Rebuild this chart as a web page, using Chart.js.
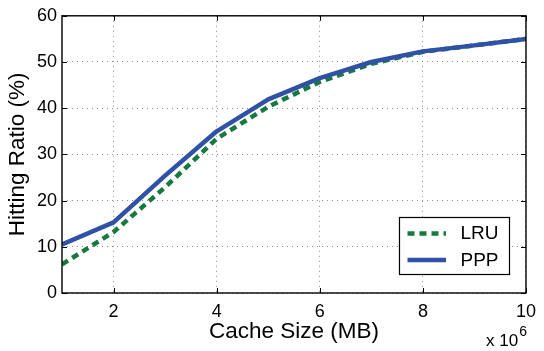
<!DOCTYPE html>
<html>
<head>
<meta charset="utf-8">
<script src="https://cdn.jsdelivr.net/npm/chart.js@4/dist/chart.umd.min.js"></script>
<style>
  html, body { margin: 0; padding: 0; background: #ffffff; }
  #wrap { width: 544px; height: 351px; }
</style>
</head>
<body>
<div id="wrap"><canvas id="c" width="544" height="351"></canvas></div>
<script>
// ---- data ----
const cacheSize = [1, 2, 3, 4, 5, 6, 7, 8, 9, 10];            // x 10^6 MB
const lruRatio  = [6.2, 13.2, 22.9, 33.4, 40.3, 45.7, 49.6, 52.2, 53.6, 55.0];
const pppRatio  = [10.5, 15.3, 25.4, 35.0, 41.9, 46.5, 50.0, 52.3, 53.6, 55.0];
const xTicks = [2, 4, 6, 8, 10];
const yTicks = [0, 10, 20, 30, 40, 50, 60];
const seriesNames = ['LRU', 'PPP'];
const xTitle = 'Cache Size (MB)';
const yTitle = 'Hitting Ratio (%)';
const xExpBase = 'x 10';
const xExpPow = '6';

const FONT = "'Liberation Sans', Arial, Helvetica, sans-serif";
const GREEN = 'rgb(22,122,62)';
const BLUE = 'rgb(48,82,166)';
const GRID = 'rgba(120,120,120,0.85)';

const framePlugin = {
  id: 'frame',
  afterDatasetsDraw(chart) {
    const ctx = chart.ctx;
    const a = chart.chartArea;
    const xs = chart.scales.x, ys = chart.scales.y;
    ctx.save();
    ctx.strokeStyle = '#000';
    ctx.lineWidth = 1.4;
    ctx.setLineDash([]);
    ctx.strokeRect(a.left, a.top, a.right - a.left, a.bottom - a.top);
    ctx.lineWidth = 1;
    const tl = 5;
    ctx.beginPath();
    xTicks.forEach(v => {
      const px = Math.round(xs.getPixelForValue(v)) + 0.5;
      ctx.moveTo(px, a.bottom); ctx.lineTo(px, a.bottom - tl);
      ctx.moveTo(px, a.top); ctx.lineTo(px, a.top + tl);
    });
    yTicks.forEach(v => {
      const py = Math.round(ys.getPixelForValue(v)) + 0.5;
      ctx.moveTo(a.left, py); ctx.lineTo(a.left + tl, py);
      ctx.moveTo(a.right, py); ctx.lineTo(a.right - tl, py);
    });
    ctx.stroke();
    ctx.restore();
  },
  afterDraw(chart) {
    const ctx = chart.ctx;
    ctx.save();
    // exponent label
    ctx.fillStyle = '#000';
    ctx.textBaseline = 'alphabetic';
    ctx.textAlign = 'left';
    ctx.font = '17px ' + FONT;
    ctx.fillText(xExpBase, 486, 346);
    const w = ctx.measureText(xExpBase).width;
    ctx.font = '14px ' + FONT;
    ctx.fillText(xExpPow, 486 + w + 1, 336);

    // legend
    const bx = 399.5, by = 217.5, bw = 110, bh = 57;
    ctx.fillStyle = '#fff';
    ctx.fillRect(bx, by, bw, bh);
    ctx.strokeStyle = '#000';
    ctx.lineWidth = 1.2;
    ctx.strokeRect(bx, by, bw, bh);
    const rows = [233.5, 260];
    chart.data.datasets.forEach((ds, i) => {
      const y = rows[i];
      ctx.beginPath();
      ctx.strokeStyle = ds.borderColor;
      ctx.lineWidth = ds.borderWidth;
      ctx.setLineDash(ds.borderDash || []);
      ctx.lineCap = 'butt';
      ctx.moveTo(407.5, y); ctx.lineTo(446, y);
      ctx.stroke();
      ctx.setLineDash([]);
      ctx.fillStyle = '#000';
      ctx.font = '19px ' + FONT;
      ctx.textBaseline = 'middle';
      ctx.fillText(ds.label, 460.5, y + 0.5);
    });
    ctx.restore();
  }
};

new Chart(document.getElementById('c'), {
  type: 'line',
  data: {
    labels: cacheSize,
    datasets: [
      {
        label: seriesNames[0],
        data: cacheSize.map((x, i) => ({x: x, y: lruRatio[i]})),
        borderColor: GREEN,
        borderWidth: 4.5,
        borderDash: [7, 5],
        borderCapStyle: 'butt',
        pointRadius: 0,
        tension: 0,
        fill: false,
        order: 1
      },
      {
        label: seriesNames[1],
        data: cacheSize.map((x, i) => ({x: x, y: pppRatio[i]})),
        borderColor: BLUE,
        borderWidth: 4.5,
        borderJoinStyle: 'round',
        pointRadius: 0,
        tension: 0,
        fill: false,
        order: 0
      }
    ]
  },
  options: {
    responsive: false,
    animation: false,
    devicePixelRatio: 1,
    layout: { padding: { left: 0, top: 14, right: 13, bottom: 0 } },
    plugins: { legend: { display: false }, tooltip: { enabled: false } },
    scales: {
      x: {
        type: 'linear',
        min: 1, max: 10,
        afterBuildTicks: s => { s.ticks = xTicks.map(v => ({value: v})); },
        afterFit: s => { s.height = 58; },
        ticks: { font: { family: FONT, size: 18 }, color: '#000', padding: 8, maxRotation: 0 },
        grid: { color: GRID, lineWidth: 1, drawTicks: false },
        border: { display: false, dash: [1, 4] },
        title: { display: true, text: xTitle, color: '#000', font: { family: FONT, size: 22.5 }, padding: { top: 0, bottom: 6 } }
      },
      y: {
        min: 0, max: 60,
        afterBuildTicks: s => { s.ticks = yTicks.map(v => ({value: v})); },
        afterFit: s => { s.width = 62; },
        ticks: { font: { family: FONT, size: 18 }, color: '#000', padding: 5 },
        grid: { color: GRID, lineWidth: 1, drawTicks: false },
        border: { display: false, dash: [1, 4] },
        title: { display: true, text: yTitle, color: '#000', font: { family: FONT, size: 22.5 }, padding: { top: 4, bottom: 0 } }
      }
    }
  },
  plugins: [framePlugin]
});
</script>
</body>
</html>
